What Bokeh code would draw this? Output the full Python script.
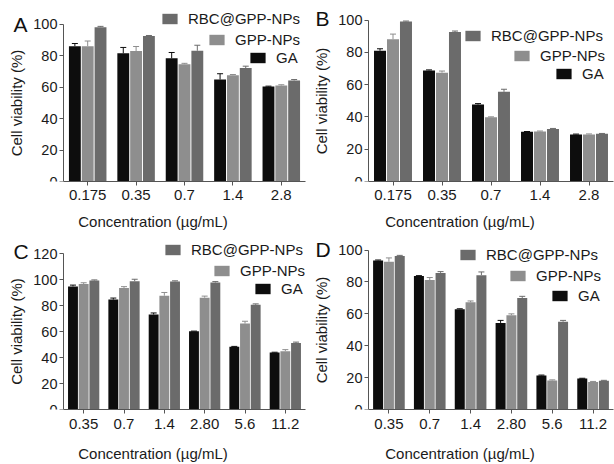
from bokeh.plotting import figure
from bokeh.models import (Range1d, Whisker, ColumnDataSource, Legend, LegendItem,
                          SingleIntervalTicker, FixedTicker, TeeHead, Label)
from bokeh.transform import dodge
from bokeh.layouts import column, row
from bokeh.embed import file_html
from bokeh.resources import INLINE

# ---------------- data ----------------
series = ["GA", "GPP-NPs", "RBC@GPP-NPs"]
series_keys = ["ga", "gpp", "rbc"]
series_colors = ["#0d0d0d", "#8e8e8e", "#6b6b6b"]

conc_ab = ["0.175", "0.35", "0.7", "1.4", "2.8"]
conc_cd = ["0.35", "0.7", "1.4", "2.80", "5.6", "11.2"]

# Panel A
a_ga = [86.0, 81.5, 78.3, 64.8, 60.4]
a_ga_err = [1.7, 3.7, 3.7, 3.7, 0.2]
a_gpp = [86.0, 82.9, 74.6, 67.5, 61.0]
a_gpp_err = [3.3, 2.9, 0.5, 0.5, 0.5]
a_rbc = [98.1, 92.5, 83.1, 72.1, 64.2]
a_rbc_err = [0.5, 0.3, 3.5, 1.2, 0.6]

# Panel B
b_ga = [81.1, 68.9, 47.7, 30.8, 29.2]
b_ga_err = [1.2, 0.3, 0.6, 0.2, 0.2]
b_gpp = [88.2, 67.5, 39.8, 31.0, 29.2]
b_gpp_err = [3.2, 1.0, 0.3, 0.3, 0.3]
b_rbc = [99.2, 92.7, 55.6, 32.5, 29.6]
b_rbc_err = [0.3, 0.6, 1.6, 0.4, 0.2]

# Panel C
c_ga = [95.0, 84.8, 73.3, 60.3, 48.5, 44.0]
c_ga_err = [1.0, 1.2, 1.2, 0.2, 0.2, 0.2]
c_gpp = [96.8, 93.8, 87.8, 86.3, 66.3, 45.0]
c_gpp_err = [1.0, 1.0, 2.5, 1.2, 1.8, 1.2]
c_rbc = [99.5, 99.0, 98.8, 98.0, 80.8, 51.3]
c_rbc_err = [0.5, 1.5, 0.5, 0.7, 0.7, 0.7]

# Panel D
d_ga = [93.5, 83.7, 62.9, 54.3, 21.4, 19.4]
d_ga_err = [0.3, 0.3, 0.3, 1.6, 0.2, 0.2]
d_gpp = [92.7, 81.2, 67.3, 59.2, 18.2, 17.3]
d_gpp_err = [2.4, 1.6, 0.8, 0.8, 0.4, 0.3]
d_rbc = [96.3, 85.7, 84.3, 70.0, 55.1, 18.0]
d_rbc_err = [0.4, 0.8, 2.0, 1.0, 0.8, 0.3]

x_title = "Concentration (µg/mL)"
y_title = "Cell viability (%)"
panel_letters = ["A", "B", "C", "D"]

FONT = "Liberation Sans"
AXIS_COLOR = "#555555"
TEXT_COLOR = "#1a1a1a"
OFFSETS = [-0.265, 0.0, 0.265]
BAR_W = 0.245
TOP_B = 4      # border above frame


def panel(letter, cats, ymax, vals, errs, fig_left, fig_top, width, height,
          bot_b, axis_px, ytop_px, legend_locs, letter_px, xl_standoffs):
    n = len(cats)
    frame_right = fig_left + width - 1
    frame_top = fig_top + TOP_B
    frame_bottom = fig_top + height - bot_b
    pitch = (frame_right - axis_px) / n
    ppu = (frame_bottom - ytop_px) / ymax
    x0 = -(axis_px - fig_left) / pitch
    y1 = (frame_bottom - frame_top) / ppu

    p = figure(x_range=Range1d(x0, n), y_range=Range1d(0, y1),
               width=width, height=height, output_backend="svg",
               toolbar_location=None, min_border_left=0, min_border_right=1,
               min_border_top=TOP_B, min_border_bottom=bot_b)
    p.outline_line_color = None
    p.grid.visible = False
    p.background_fill_color = "white"
    p.border_fill_color = "white"

    xpos = [i + 0.5 for i in range(n)]
    data = dict(xpos=xpos, cat=cats)
    for k, v, e in zip(series_keys, vals, errs):
        data[k] = v
        data[k + "_hi"] = [a + b for a, b in zip(v, e)]
    src = ColumnDataSource(data)

    renderers = []
    for k, col, off in zip(series_keys, series_colors, OFFSETS):
        r = p.vbar(x=dodge("xpos", off), top=k, width=BAR_W,
                   source=src, fill_color=col, line_color=None)
        renderers.append(r)
        w = Whisker(source=src, base=dodge("xpos", off),
                    lower=k, upper=k + "_hi", line_color=col, line_width=1,
                    upper_head=TeeHead(size=6, line_color=col, line_width=1),
                    lower_head=None)
        p.add_layout(w)

    # legends (one per item, stacked right-aligned like the original)
    order = [2, 1, 0]
    for idx, (gx, gy) in zip(order, legend_locs):
        loc = (gx - fig_left, frame_bottom - gy - 10)
        lg = Legend(items=[LegendItem(label=series[idx], renderers=[renderers[idx]])],
                    location=loc, glyph_width=19, glyph_height=13,
                    label_height=13, label_standoff=9, padding=0, margin=0,
                    spacing=0, border_line_color=None, background_fill_alpha=0,
                    label_text_font=FONT, label_text_font_size="15px",
                    label_text_color=TEXT_COLOR)
        p.add_layout(lg)

    # panel letter (left edge x, baseline y in page pixels)
    lx, lb = letter_px
    p.add_layout(Label(x=(lx - axis_px) / pitch, y=(frame_bottom - lb + 9) / ppu,
                       text=letter, text_font=FONT, text_font_size="21px",
                       text_color="#111111", text_baseline="alphabetic",
                       text_align="left"))

    p.yaxis.ticker = SingleIntervalTicker(interval=20)
    p.yaxis.bounds = (0, ymax)
    p.yaxis.fixed_location = 0
    p.xaxis.ticker = FixedTicker(ticks=xpos)
    p.xaxis.major_label_overrides = {x: c for x, c in zip(xpos, cats)}
    p.xaxis.bounds = (0, n)
    for ax in (p.xaxis, p.yaxis):
        ax.axis_line_color = AXIS_COLOR
        ax.major_tick_line_color = AXIS_COLOR
        ax.minor_tick_line_color = None
        ax.major_tick_in = 0
        ax.major_tick_out = 4
        ax.major_label_text_font = FONT
        ax.major_label_text_color = TEXT_COLOR
        ax.axis_label_text_font = FONT
        ax.axis_label_text_font_style = "normal"
        ax.axis_label_text_color = TEXT_COLOR
    p.xaxis.axis_label = x_title
    p.yaxis.axis_label = y_title
    p.xaxis.major_label_text_font_size = "15px"
    p.yaxis.major_label_text_font_size = "14.5px"
    p.xaxis.axis_label_text_font_size = "15px"
    p.yaxis.axis_label_text_font_size = "15px"
    p.xaxis.major_label_standoff = xl_standoffs[0]
    p.xaxis.axis_label_standoff = xl_standoffs[1]
    p.yaxis.major_label_standoff = 2
    p.yaxis.axis_label_standoff = 5
    return p


pa = panel(panel_letters[0], conc_ab, 100, [a_ga, a_gpp, a_rbc],
           [a_ga_err, a_gpp_err, a_rbc_err], 0, 0, 306, 232, 48, 63, 24,
           [(160, 20), (207, 41), (248, 58.5)], (13, 33), (4, 10))
pb = panel(panel_letters[1], conc_ab, 100, [b_ga, b_gpp, b_rbc],
           [b_ga_err, b_gpp_err, b_rbc_err], 306, 0, 308, 232, 48, 368, 20,
           [(463, 36.5), (512, 57), (554, 75)], (315, 27), (4, 10))
pc = panel(panel_letters[2], conc_cd, 120, [c_ga, c_gpp, c_rbc],
           [c_ga_err, c_gpp_err, c_rbc_err], 0, 232, 306, 232, 50, 63, 254,
           [(163, 252.5), (212, 273.5), (253, 291.5)], (13, 260), (5, 13))
pd = panel(panel_letters[3], conc_cd, 100, [d_ga, d_gpp, d_rbc],
           [d_ga_err, d_gpp_err, d_rbc_err], 306, 232, 308, 232, 50, 368, 250,
           [(458, 257.5), (508, 278.5), (550, 298.5)], (315, 258), (5, 13))

layout = column(row(pa, pb), row(pc, pd))
open("out.html", "w").write(file_html(layout, INLINE))
